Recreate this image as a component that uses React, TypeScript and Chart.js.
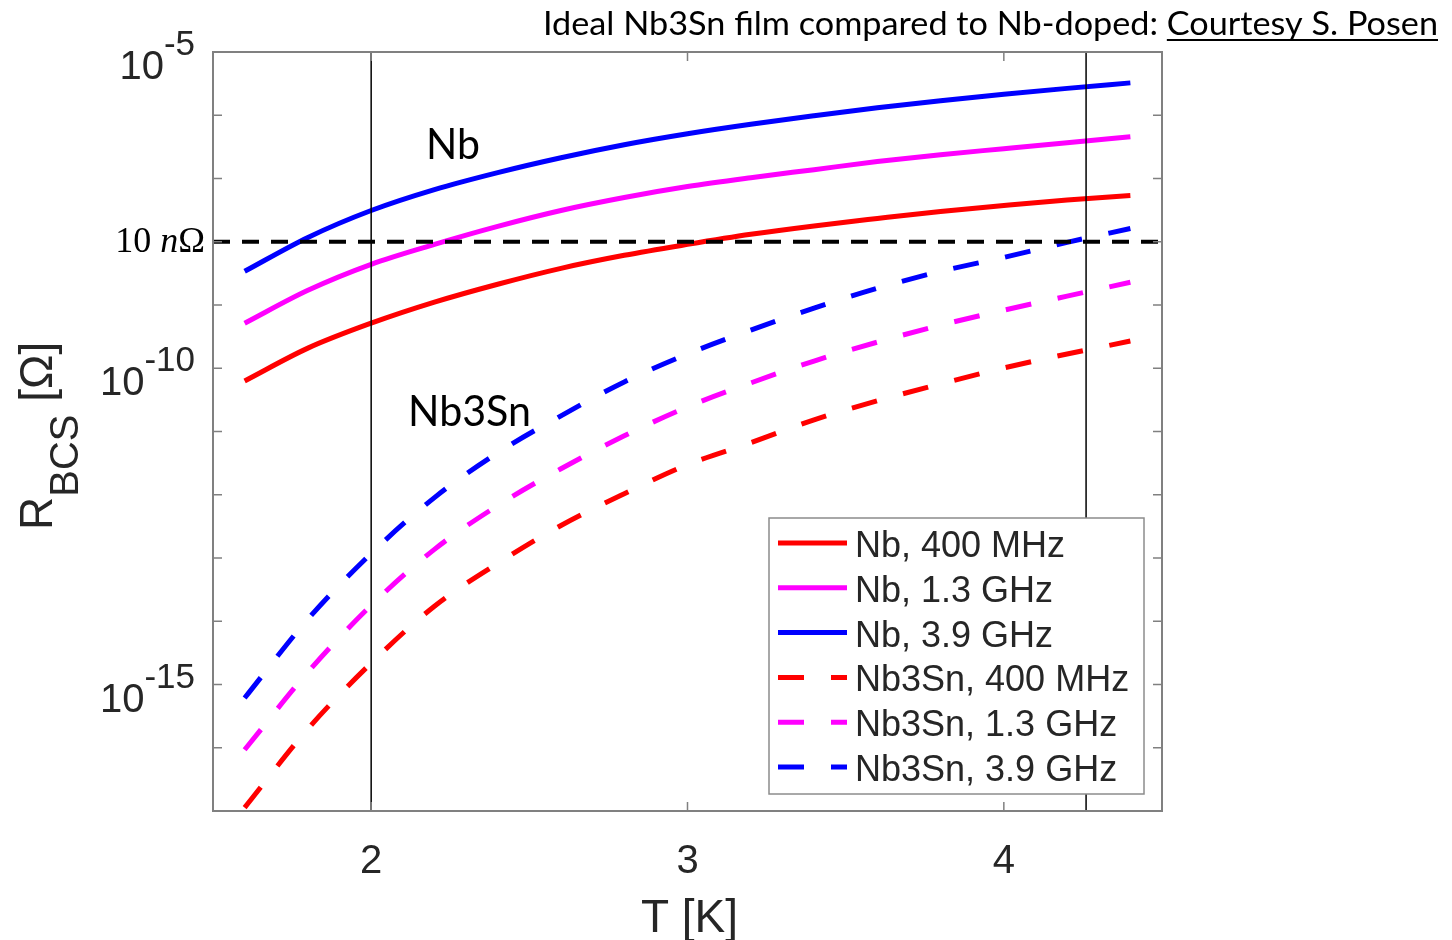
import React, { useEffect, useRef } from "react";
import { Chart, registerables } from "chart.js";

Chart.register(...registerables);

// ---------- data ----------
const temperatures = [1.6, 1.8, 2.0, 2.2, 2.4, 2.6, 2.8, 3.0, 3.2, 3.4, 3.6, 3.8, 4.0, 4.2, 4.4];

const nb400MHz = [6.3e-11, 2.08e-10, 5.16e-10, 1.11e-9, 2.13e-9, 3.8e-9, 6.1e-9, 9.08e-9, 1.31e-8, 1.78e-8, 2.33e-8, 3.01e-8, 3.74e-8, 4.57e-8, 5.37e-8];
const nb1300MHz = [5.16e-10, 1.71e-9, 4.4e-9, 9.08e-9, 1.75e-8, 3.12e-8, 5.0e-8, 7.45e-8, 1.03e-7, 1.38e-7, 1.85e-7, 2.38e-7, 2.96e-7, 3.68e-7, 4.57e-7];
const nb3900MHz = [3.41e-9, 1.17e-8, 3.12e-8, 6.68e-8, 1.24e-7, 2.13e-7, 3.42e-7, 5.1e-7, 7.2e-7, 9.8e-7, 1.31e-6, 1.69e-6, 2.14e-6, 2.66e-6, 3.25e-6];
const nb3sn400MHz = [1.13e-17, 1.99e-16, 2.18e-15, 1.73e-14, 8.22e-14, 3.27e-13, 1.04e-12, 2.99e-12, 6.64e-12, 1.53e-11, 3.05e-11, 5.65e-11, 1.01e-10, 1.68e-10, 2.69e-10];
const nb3sn1300MHz = [9.29e-17, 1.57e-15, 1.79e-14, 1.37e-13, 6.75e-13, 2.58e-12, 8.55e-12, 2.45e-11, 5.86e-11, 1.3e-10, 2.59e-10, 4.81e-10, 8.28e-10, 1.38e-9, 2.29e-9];
const nb3sn3900MHz = [6.12e-16, 1.08e-14, 1.18e-13, 9.02e-13, 4.61e-12, 1.77e-11, 6.07e-11, 1.68e-10, 4.01e-10, 8.91e-10, 1.84e-9, 3.41e-9, 5.66e-9, 9.77e-9, 1.62e-8];

const seriesLabels = ["Nb, 400 MHz", "Nb, 1.3 GHz", "Nb, 3.9 GHz", "Nb3Sn, 400 MHz", "Nb3Sn, 1.3 GHz", "Nb3Sn, 3.9 GHz"];
const seriesColors = ["#ff0000", "#ff00ff", "#0000ff", "#ff0000", "#ff00ff", "#0000ff"];

const markerTemperatures = [2.0, 4.26];
const thresholdResistance = 1e-8;
const thresholdLabel = ["10 ", "n", "Ω"];

const xMin = 1.5;
const xMax = 4.5;
const yMin = 1e-17;
const yMax = 1e-5;
const xTickValues = [2, 3, 4];
const xTickLabels = ["2", "3", "4"];
const yTickValues = [1e-17, 1e-16, 1e-15, 1e-14, 1e-13, 1e-12, 1e-11, 1e-10, 1e-9, 1e-8, 1e-7, 1e-6, 1e-5];
const yLabelValues = [1e-5, 1e-10, 1e-15];
const yLabelExponents = ["-5", "-10", "-15"];

const titleMain = "Ideal Nb3Sn film compared to Nb-doped: ";
const titleCredit = "Courtesy S. Posen";
const annotationNb = "Nb";
const annotationNb3Sn = "Nb3Sn";

const AXIS = "#262626";
const SANS = '"Liberation Sans", Arial, Helvetica, sans-serif';
const CAL = 'Lato, "Open Sans", sans-serif';
const SERIF = '"Liberation Serif", "DejaVu Serif", serif';

function drawScaledText(ctx: CanvasRenderingContext2D, text: string, font: string, x: number, y: number, targetWidth: number) {
  ctx.font = font;
  const w = ctx.measureText(text).width;
  const sx = targetWidth / w;
  ctx.save();
  ctx.translate(x, y);
  ctx.scale(sx, 1);
  ctx.textAlign = "left";
  ctx.textBaseline = "alphabetic";
  ctx.fillText(text, 0, 0);
  ctx.restore();
  return sx;
}

const decorPlugin = {
  id: "decor",
  afterDatasetsDraw(chart: any) {
    const { ctx, chartArea: a, scales } = chart;
    const xs = scales.x;
    const ys = scales.y;
    ctx.save();
    ctx.strokeStyle = "#808080";
    ctx.lineWidth = 2;
    ctx.strokeRect(a.left, a.top, a.right - a.left, a.bottom - a.top);
    ctx.lineWidth = 1.5;
    ctx.beginPath();
    yTickValues.forEach((v) => {
      const py = ys.getPixelForValue(v);
      ctx.moveTo(a.left, py);
      ctx.lineTo(a.left + 9, py);
      ctx.moveTo(a.right, py);
      ctx.lineTo(a.right - 9, py);
    });
    xTickValues.forEach((v) => {
      const px = xs.getPixelForValue(v);
      ctx.moveTo(px, a.bottom);
      ctx.lineTo(px, a.bottom - 9);
      ctx.moveTo(px, a.top);
      ctx.lineTo(px, a.top + 9);
    });
    ctx.stroke();
    ctx.restore();
  },
  afterDraw(chart: any) {
    const { ctx, chartArea: a, scales } = chart;
    const xs = scales.x;
    const ys = scales.y;
    ctx.save();

    // y tick labels with superscripts
    ctx.fillStyle = AXIS;
    yLabelValues.forEach((v, i) => {
      const py = ys.getPixelForValue(v);
      const right = a.left - 18;
      ctx.textAlign = "right";
      ctx.textBaseline = "alphabetic";
      ctx.font = `35px ${SANS}`;
      const supW = ctx.measureText(yLabelExponents[i]).width;
      ctx.fillText(yLabelExponents[i], right, py + 3);
      ctx.font = `40px ${SANS}`;
      ctx.fillText("10", right - supW, py + 27);
    });

    // x tick labels
    ctx.font = `40px ${SANS}`;
    ctx.textAlign = "center";
    xTickValues.forEach((v, i) => {
      ctx.fillText(xTickLabels[i], xs.getPixelForValue(v), a.bottom + 62);
    });

    // x axis title
    ctx.font = `46px ${SANS}`;
    ctx.fillText("T [K]", (a.left + a.right) / 2 + 2, a.bottom + 121);

    // y axis title (rotated)
    ctx.save();
    ctx.translate(52, 530);
    ctx.rotate(-Math.PI / 2);
    ctx.textAlign = "left";
    ctx.font = `46px ${SANS}`;
    ctx.fillText("R", 0, 0);
    const wR = ctx.measureText("R").width;
    ctx.font = `40px ${SANS}`;
    ctx.fillText("BCS", wR, 26);
    const wB = ctx.measureText("BCS").width;
    ctx.font = `46px ${SANS}`;
    ctx.fillText(" [Ω]", wR + wB, 0);
    ctx.restore();

    // threshold label "10 nΩ"
    const thrY = ys.getPixelForValue(thresholdResistance) + 10;
    ctx.fillStyle = "#000";
    ctx.textAlign = "left";
    const fN = `36px ${SERIF}`;
    const fI = `italic 36px ${SERIF}`;
    ctx.font = fN;
    const w0 = ctx.measureText(thresholdLabel[0]).width;
    const w2 = ctx.measureText(thresholdLabel[2]).width;
    ctx.font = fI;
    const w1 = ctx.measureText(thresholdLabel[1]).width;
    let tx = a.left - 8 - (w0 + w1 + w2);
    ctx.font = fN;
    ctx.fillText(thresholdLabel[0], tx, thrY);
    tx += w0;
    ctx.font = fI;
    ctx.fillText(thresholdLabel[1], tx, thrY);
    tx += w1;
    ctx.font = fN;
    ctx.fillText(thresholdLabel[2], tx, thrY);

    // annotations
    drawScaledText(ctx, annotationNb, `42px ${CAL}`, 426, 159, 54);
    drawScaledText(ctx, annotationNb3Sn, `42px ${CAL}`, 408, 426, 123);

    // title
    ctx.font = `32px ${CAL}`;
    const mainW = ctx.measureText(titleMain).width;
    const sx = drawScaledText(ctx, titleMain + titleCredit, `32px ${CAL}`, 543, 35, 895);
    ctx.fillRect(543 + mainW * sx, 39, 1438 - (543 + mainW * sx), 2);

    // legend
    const items = chart.data.datasets.filter((d: any) => d.inLegend);
    const lx = 769, ly = 518, lw = 375, lh = 276;
    ctx.fillStyle = "#fff";
    ctx.fillRect(lx, ly, lw, lh);
    ctx.strokeStyle = "#8c8c8c";
    ctx.lineWidth = 1.5;
    ctx.strokeRect(lx, ly, lw, lh);
    items.forEach((d: any, i: number) => {
      const ry = 543 + i * 44.8;
      ctx.save();
      ctx.strokeStyle = d.borderColor;
      ctx.lineWidth = 5;
      ctx.setLineDash(d.borderDash || []);
      ctx.beginPath();
      ctx.moveTo(778, ry);
      ctx.lineTo(847, ry);
      ctx.stroke();
      ctx.restore();
      ctx.fillStyle = AXIS;
      ctx.font = `36px ${SANS}`;
      ctx.textAlign = "left";
      ctx.textBaseline = "alphabetic";
      ctx.fillText(d.label, 855, ry + 14);
    });

    ctx.restore();
  },
};

export default function App() {
  const canvasRef = useRef<HTMLCanvasElement>(null);

  useEffect(() => {
    const canvas = canvasRef.current;
    if (!canvas) return;
    const curves = [nb400MHz, nb1300MHz, nb3900MHz, nb3sn400MHz, nb3sn1300MHz, nb3sn3900MHz];
    const datasets: any[] = curves.map((vals, i) => ({
      label: seriesLabels[i],
      data: temperatures.map((t, j) => ({ x: t, y: vals[j] })),
      borderColor: seriesColors[i],
      backgroundColor: seriesColors[i],
      borderWidth: 5,
      borderDash: i >= 3 ? [26, 27] : [],
      borderJoinStyle: "round",
      cubicInterpolationMode: "monotone",
      pointRadius: 0,
      fill: false,
      order: 2,
      inLegend: true,
    }));
    markerTemperatures.forEach((t) => {
      datasets.push({
        label: "",
        data: [
          { x: t, y: yMin },
          { x: t, y: yMax },
        ],
        borderColor: "#000",
        borderWidth: 1.5,
        pointRadius: 0,
        fill: false,
        order: 1,
        inLegend: false,
      });
    });
    datasets.push({
      label: "",
      data: [
        { x: xMin, y: thresholdResistance },
        { x: xMax, y: thresholdResistance },
      ],
      borderColor: "#000",
      borderWidth: 4,
      borderDash: [17, 12],
      pointRadius: 0,
      fill: false,
      order: 1,
      inLegend: false,
    });

    const chart = new Chart(canvas, {
      type: "line",
      data: { datasets },
      options: {
        responsive: false,
        animation: false,
        devicePixelRatio: 1,
        layout: { padding: { left: 213, top: 52, right: 290, bottom: 129 } },
        plugins: {
          legend: { display: false },
          tooltip: { enabled: false },
          title: { display: false },
        },
        scales: {
          x: { type: "linear", min: xMin, max: xMax, display: false },
          y: { type: "logarithmic", min: yMin, max: yMax, display: false },
        },
      } as any,
      plugins: [decorPlugin as any],
    });
    return () => chart.destroy();
  }, []);

  return (
    <div style={{ position: "absolute", left: 0, top: 0, width: 1452, height: 940, background: "#fff" }}>
      <canvas ref={canvasRef} width={1452} height={940} style={{ display: "block", width: 1452, height: 940 }} />
    </div>
  );
}
